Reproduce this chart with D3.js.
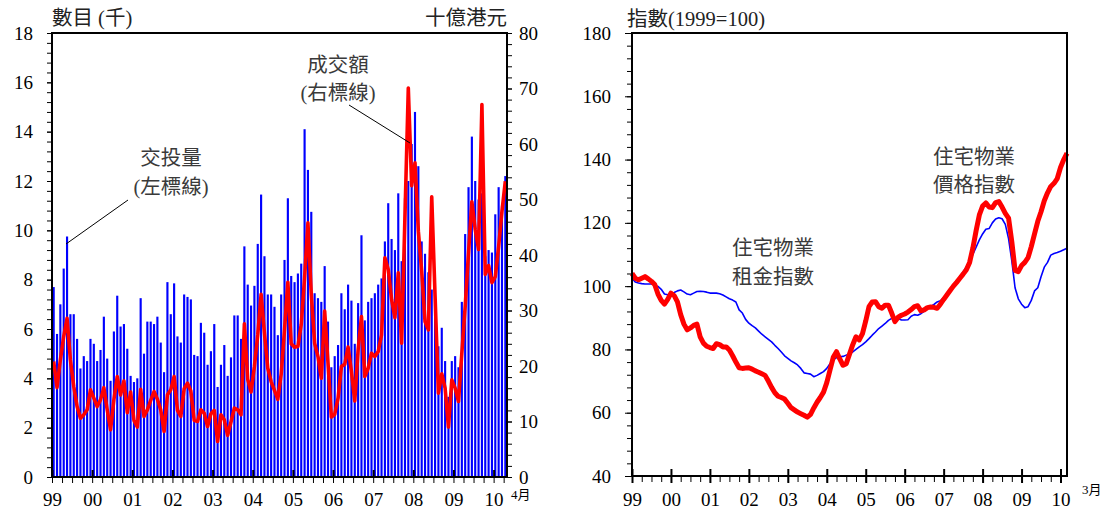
<!DOCTYPE html>
<html>
<head>
<meta charset="utf-8">
<script src="https://cdn.jsdelivr.net/npm/d3@7"></script>
<style>
  body { margin:0; background:#fff; }
  svg text { font-family: "Liberation Serif", "Noto Sans CJK TC", serif; }
  .note { fill:#3a3a3a; font-size:20.5px; }
  .title { fill:#222; font-size:20.5px; }
  .tick text { font-size:19px; fill:#000; }
</style>
</head>
<body>
<svg width="1107" height="513"></svg>
<script>
// ---- data ----
const yearLabels = ['99','00','01','02','03','04','05','06','07','08','09','10'];

// monthly transactions (thousand), Jan 1999 - Apr 2010
const volume = [
  7.7,5.8,7.0,8.45,9.75,6.6,6.6,5.6,4.4,4.9,4.7,5.6,
  5.4,4.7,5.15,6.5,4.8,3.9,5.9,7.35,6.1,6.2,5.2,4.1,
  3.85,4.0,7.25,5.0,6.3,6.3,6.2,6.5,5.45,4.25,7.9,6.6,
  7.85,5.7,5.45,7.4,7.3,7.2,4.95,4.9,6.25,5.85,4.55,5.1,
  6.2,3.65,4.55,5.35,4.1,4.85,6.55,6.55,5.6,9.35,7.8,6.95,
  7.75,9.45,11.45,8.95,7.4,7.4,6.9,5.75,7.4,8.8,11.3,8.15,
  7.9,8.25,8.65,14.1,12.45,10.75,7.45,7.25,7.1,8.55,6.3,4.45,
  4.9,5.35,7.45,6.8,7.8,7.15,5.4,7.05,9.8,6.35,7.1,7.25,
  7.45,7.8,8.05,9.55,11.1,9.65,9.2,11.5,8.75,11.3,12.0,13.5,
  14.8,12.6,9.55,9.05,8.3,7.6,6.6,5.3,6.05,4.7,3.25,4.7,
  4.9,4.45,7.1,9.85,11.75,13.8,12.0,11.25,11.5,8.95,9.2,9.1,
  10.65,11.75,11.0,12.2
];

// monthly transaction value (HK$ billion)
const value = [
  20.8,16.1,21.1,25.3,28.6,21.1,16.3,12.7,10.6,11.2,12.1,15.7,
  14.2,12.7,13.9,16.1,12.1,8.5,13.9,18.1,14.8,17.3,11.6,15.3,
  10.2,9.0,15.8,10.9,12.1,13.8,15.4,14.0,12.1,8.2,14.8,15.7,
  18.1,12.0,10.9,15.9,16.9,15.5,10.2,10.0,12.1,11.5,9.1,11.4,
  12.0,6.4,11.2,10.3,7.5,9.9,12.4,12.1,11.2,27.6,17.6,15.3,
  19.9,25.6,32.9,25.9,19.6,17.2,15.6,14.0,18.5,26.5,35.1,24.0,
  23.4,23.5,27.5,35.9,45.8,32.9,24.1,21.7,17.8,29.9,20.5,10.8,
  11.3,14.2,19.9,20.3,23.4,19.0,13.7,22.9,28.9,18.1,19.6,22.3,
  21.7,22.6,25.6,39.5,37.4,32.0,28.7,36.8,24.1,47.0,70.1,52.5,
  56.6,44.3,37.1,28.0,26.5,50.5,32.6,15.1,18.6,16.0,9.0,17.5,
  16.0,13.6,22.3,30.7,40.4,49.6,44.6,41.0,67.1,36.5,38.1,35.0,
  36.1,41.5,47.9,53.3
];

// residential price index (1999=100), Jan 1999 - Mar 2010
const priceIdx = [
  104,102.5,102,102.5,103,102.3,101.5,100.5,97.5,95.5,94.3,95.8,
  97.8,97,95,91,88,86.2,86.8,87.6,88,84,82,81,
  80.6,80.3,81.8,81.5,80.8,80.8,79.8,78,76,74.2,74,74.1,
  74.2,73.8,73.2,72.8,72.3,71.8,70,68,66.3,65.2,64.8,64.3,
  63,61.6,60.9,60.2,59.7,59.2,58.6,59.5,61.5,63.3,64.8,66.5,
  69.5,73.5,77.5,79.3,77,75,75.5,78.5,81.5,84,83,85,
  89,93.5,95,95.1,93.5,93,94,94,91.5,88.8,90.2,90.8,
  91.2,91.8,92.6,93.5,93.8,92.2,92.5,93.2,93.4,93.3,93,94.3,
  95.8,97.2,98.6,100,101.2,102.5,103.8,105.2,107.5,112,117.5,122.5,
  125.3,126.3,125,124.8,126.4,126.7,125,123,121.5,114,105,104.6,
  106.5,107.5,109,112.5,116.5,120.5,123.5,127,129.5,131.5,132.5,134,
  137.5,140,142
];

// residential rental index (1999=100)
const rentIdx = [
  102.5,101.3,101,100.8,100.7,100.7,100.7,100.4,99.9,99,97.5,97.3,
  97.6,98,98.5,98.8,98.2,97.5,97.3,97.8,98.3,98.4,98.3,98.1,
  97.8,97.8,97.8,97.6,97.2,96.6,96,95.6,95,92.5,91.5,89.5,
  88.3,87.5,86.8,85.8,84.8,84,83.2,82.4,81.3,80.3,79.2,78,
  77.2,76.4,75.8,75.1,74,72.6,72.4,72.2,71.4,71.8,72.4,73,
  74,75.5,76.7,77.4,77.7,77.8,78.2,78.6,79.2,80,80.8,81.5,
  82.4,83.4,84.5,85.5,86.6,87.4,88.2,89.2,89.8,89.9,89.8,89.3,
  89.3,89.4,90.5,91,90.8,91.3,92,92.8,93.5,94.2,95,95.4,
  96.4,97.5,99,100.3,101.5,103,104.5,106.1,108,110,112.3,114.6,
  116.5,118,118.2,120,121.2,121.6,121.3,119.5,115,108,99.5,96,
  94.3,93.2,93.5,95.5,98.5,99.5,103,106,107.5,109.8,110.3,110.6,
  111,111.5,112
];

const svg = d3.select('svg');

// ================= left panel =================
const L = { left:52, right:507, top:33, bottom:477 };
const nL = volume.length;

const xBand = d3.scaleBand()
  .domain(d3.range(nL))
  .range([L.left, L.right])
  .paddingInner(0.36)
  .paddingOuter(0.18);
const xL = d3.scaleLinear().domain([0, nL]).range([L.left, L.right]);
const yL = d3.scaleLinear().domain([0, 18]).range([L.bottom, L.top]);
const yR = d3.scaleLinear().domain([0, 80]).range([L.bottom, L.top]);

const gL = svg.append('g');

gL.selectAll('rect.bar').data(volume)
  .enter().append('rect')
    .attr('class','bar')
    .attr('x', (d,i) => xBand(i))
    .attr('y', d => yL(d))
    .attr('width', xBand.bandwidth())
    .attr('height', d => yL(0) - yL(d))
    .attr('fill', '#0000ff');

const lineL = d3.line()
  .x((d,i) => xBand(i) + xBand.bandwidth()/2)
  .y(d => yR(d));

gL.append('path')
  .datum(value)
  .attr('d', lineL)
  .attr('fill','none')
  .attr('stroke','#ff0000')
  .attr('stroke-width',3.6)
  .attr('stroke-linejoin','round');

// frame
gL.append('rect')
  .attr('x', L.left).attr('y', L.top)
  .attr('width', L.right - L.left).attr('height', L.bottom - L.top)
  .attr('fill','none').attr('stroke','#000').attr('stroke-width',2);

// left axis
gL.append('g')
  .attr('transform', `translate(${L.left},0)`)
  .call(d3.axisLeft(yL).tickValues(d3.range(0, 18.01, 0.4)).tickSize(5).tickFormat(''))
  .call(g => g.select('.domain').remove());
gL.append('g')
  .attr('transform', `translate(${L.left},0)`)
  .call(d3.axisLeft(yL).tickValues(d3.range(0, 19, 2)).tickSize(5).tickPadding(14))
  .call(g => g.select('.domain').remove());

// right axis
gL.append('g')
  .attr('transform', `translate(${L.right},0)`)
  .call(d3.axisRight(yR).tickValues(d3.range(0, 81, 2)).tickSize(5).tickFormat(''))
  .call(g => g.select('.domain').remove());
gL.append('g')
  .attr('transform', `translate(${L.right},0)`)
  .call(d3.axisRight(yR).tickValues(d3.range(0, 81, 10)).tickSize(5).tickPadding(7))
  .call(g => g.select('.domain').remove());

// bottom axis
gL.append('g')
  .attr('transform', `translate(0,${L.bottom})`)
  .call(d3.axisBottom(xL).tickValues(d3.range(0, nL + 1, 3)).tickSize(6).tickFormat(''))
  .call(g => g.select('.domain').remove());
gL.append('g')
  .attr('transform', `translate(0,${L.bottom})`)
  .call(d3.axisBottom(xL).tickValues(d3.range(0, nL, 12)).tickSizeInner(-7).tickSizeOuter(0)
        .tickPadding(16).tickFormat((d,i) => yearLabels[i]))
  .call(g => g.select('.domain').remove())
  .call(g => g.selectAll('.tick line').attr('stroke-width',2))
  .call(g => g.selectAll('.tick text').attr('y', 16));

gL.selectAll('.tick line').attr('stroke','#000');

gL.append('text').attr('class','title').attr('x', 52).attr('y', 25).text('數目 (千)');
gL.append('text').attr('class','title').attr('x', 507).attr('y', 25).attr('text-anchor','end').text('十億港元');
gL.append('text').attr('x', 511).attr('y', 499).style('font-size','13px').text('4月');

// annotations
gL.append('text').attr('class','note').attr('x',171).attr('y',165).attr('text-anchor','middle').text('交投量');
gL.append('text').attr('class','note').attr('x',171).attr('y',194).attr('text-anchor','middle').text('(左標線)');
gL.append('line').attr('x1',128).attr('y1',200).attr('x2',66).attr('y2',244).attr('stroke','#000').attr('stroke-width',1);

gL.append('text').attr('class','note').attr('x',338).attr('y',72).attr('text-anchor','middle').text('成交額');
gL.append('text').attr('class','note').attr('x',338).attr('y',100).attr('text-anchor','middle').text('(右標線)');
gL.append('line').attr('x1',349).attr('y1',105).attr('x2',410).attr('y2',143).attr('stroke','#000').attr('stroke-width',1);

// ================= right panel =================
const R = { left:632, right:1067, top:33, bottom:476 };
const nR = priceIdx.length;

const xP = d3.scaleLinear().domain([0, nR - 1]).range([R.left, R.right]);
const yP = d3.scaleLinear().domain([40, 180]).range([R.bottom, R.top]);

const gR = svg.append('g');

const lineR = d3.line()
  .x((d,i) => xP(i))
  .y(d => yP(d));

gR.append('path')
  .datum(rentIdx)
  .attr('d', lineR)
  .attr('fill','none')
  .attr('stroke','#0000ff')
  .attr('stroke-width',1.6)
  .attr('stroke-linejoin','round');

gR.append('path')
  .datum(priceIdx)
  .attr('d', lineR)
  .attr('fill','none')
  .attr('stroke','#ff0000')
  .attr('stroke-width',5)
  .attr('stroke-linejoin','round');

gR.append('rect')
  .attr('x', R.left).attr('y', R.top)
  .attr('width', R.right - R.left).attr('height', R.bottom - R.top)
  .attr('fill','none').attr('stroke','#000').attr('stroke-width',2);

gR.append('g')
  .attr('transform', `translate(${R.left},0)`)
  .call(d3.axisLeft(yP).tickValues(d3.range(40, 181, 4)).tickSize(5).tickFormat(''))
  .call(g => g.select('.domain').remove());
gR.append('g')
  .attr('transform', `translate(${R.left},0)`)
  .call(d3.axisLeft(yP).tickValues(d3.range(40, 181, 20)).tickSize(7).tickPadding(14))
  .call(g => g.select('.domain').remove());

gR.append('g')
  .attr('transform', `translate(0,${R.bottom})`)
  .call(d3.axisBottom(xP).tickValues(d3.range(0, nR, 3)).tickSize(6).tickFormat(''))
  .call(g => g.select('.domain').remove());
gR.append('g')
  .attr('transform', `translate(0,${R.bottom})`)
  .call(d3.axisBottom(xP).tickValues(d3.range(0, nR, 12)).tickSize(7).tickPadding(10)
        .tickFormat((d,i) => yearLabels[i]))
  .call(g => g.select('.domain').remove())
  .call(g => g.selectAll('.tick line').attr('y1', -7).attr('stroke-width',2));

gR.selectAll('.tick line').attr('stroke','#000');

gR.append('text').attr('class','title').attr('x', 627).attr('y', 26).text('指數(1999=100)');
gR.append('text').attr('x', 1082).attr('y', 494).style('font-size','13px').text('3月');

gR.append('text').attr('class','note').attr('x',773).attr('y',255).attr('text-anchor','middle').text('住宅物業');
gR.append('text').attr('class','note').attr('x',773).attr('y',284).attr('text-anchor','middle').text('租金指數');
gR.append('text').attr('class','note').attr('x',974).attr('y',164).attr('text-anchor','middle').text('住宅物業');
gR.append('text').attr('class','note').attr('x',974).attr('y',192).attr('text-anchor','middle').text('價格指數');
</script>
</body>
</html>
